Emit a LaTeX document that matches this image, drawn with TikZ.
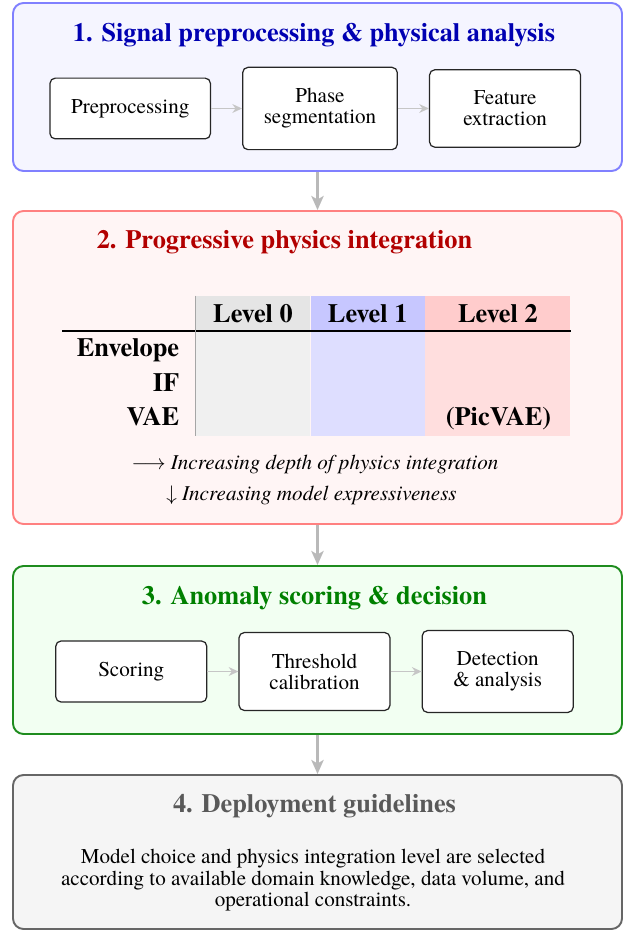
\documentclass[tikz,border=0pt]{standalone}
\usepackage{fontspec}
\setmainfont{texgyretermes}[Extension=.otf,UprightFont=*-regular,BoldFont=*-bold,
  ItalicFont=*-italic,BoldItalicFont=*-bolditalic]
\usepackage{amsmath,amssymb}
\usetikzlibrary{arrows.meta,positioning}
\definecolor{PreBlue}{HTML}{8080FF}
\definecolor{PhysRed}{HTML}{FF8080}
\definecolor{ScoreGreen}{HTML}{1E8C1E}
\definecolor{DeployGray}{HTML}{666666}

\begin{document}
\begin{tikzpicture}[
    stage/.style={rounded corners=6pt,line width=1.1pt,minimum width=12.18cm},
    title/.style={inner sep=0pt,font=\fontsize{15}{18}\selectfont\bfseries},
    block/.style={draw=black!85,fill=white,rounded corners=3pt,line width=0.7pt,
      inner sep=12pt,minimum width=3.02cm,align=center,
      font=\fontsize{12}{12}\selectfont},
    flow/.style={-{Stealth[length=5.5pt,width=5pt]},draw=gray!45,line width=1.1pt},
    link/.style={-{Stealth[length=8pt,width=7pt,inset=2pt]},draw=gray!55,line width=1.4pt},
    cell/.style={minimum width=2.28cm,minimum height=0.70cm,inner sep=0pt,
      font=\fontsize{15}{18}\selectfont\bfseries},
    col/.style={minimum width=2.28cm,minimum height=2.08cm,inner sep=0pt},
    model/.style={anchor=base east,inner sep=0pt,font=\fontsize{15}{18}\selectfont\bfseries},
    hint/.style={anchor=base,inner sep=0pt,font=\fontsize{12}{14}\selectfont\itshape}
  ]
  \useasboundingbox (0,0) rectangle (12.5,-18.6);

  % stage frames
  \node[stage,draw=PreBlue,fill=PreBlue!8,minimum height=3.36cm] (s1) at (6.35,-1.74) {};
  \node[stage,draw=PhysRed,fill=PhysRed!8,minimum height=6.26cm] (s2) at (6.35,-7.35) {};
  \node[stage,draw=ScoreGreen,fill=green!5,minimum height=3.36cm] (s3) at (6.35,-13.0) {};
  \node[stage,draw=DeployGray,fill=black!4,minimum height=3.08cm] (s4) at (6.35,-17.04) {};

  \draw[link] (s1) -- (s2);
  \draw[link] (s2) -- (s3);
  \draw[link] (s3) -- (s4);

  % 1. preprocessing
  \node[title,text=blue!70!black] (t1) at (6.28,-0.70) {1. Signal preprocessing \& physical analysis};
  \node[block] (seg) at (6.40,-2.17) {Phase\\segmentation};
  \node[block,left=0.62cm of seg] (prep) {Preprocessing};
  \node[block,right=0.62cm of seg] (feat) {Feature\\extraction};
  \draw[flow] (prep) -- (seg);
  \draw[flow] (seg) -- (feat);

  % 2. physics levels
  \node[title,text=red!70!black] (t2) at (5.69,-4.84) {2. Progressive physics integration};
  \node[cell,fill=gray!20] (h0) at (5.06,-6.27) {Level 0};
  \node[cell,fill=blue!22,right=0pt of h0] (h1) {Level 1};
  \node[cell,fill=red!20,right=0pt of h1,minimum width=2.90cm] (h2) {Level 2};
  \node[col,fill=gray!12,below=0pt of h0] (c0) {};
  \node[col,fill=blue!13,below=0pt of h1] (c1) {};
  \node[col,fill=red!13,below=0pt of h2,minimum width=2.90cm] (c2) {};
  \coordinate (ruleL) at (1.24,-6.62);
  \draw[line width=0.8pt] (ruleL) -- (ruleL -| h2.south east);
  \draw[gray!70,line width=0.5pt] (h0.north west) -- (c0.south west);
  \node[model] (env) at (3.59,-7.14) {Envelope};
  \node[model] (if) at (3.59,-7.82) {IF};
  \node[model] (vae) at (3.59,-8.50) {VAE};
  \node[model,anchor=base] (picvae) at (9.97,-8.50) {(PicVAE)};
  \node[hint] (depth) at (6.30,-9.38) {$\longrightarrow$ Increasing depth of physics integration};
  \node[hint] (expr) at (6.23,-10.00) {$\downarrow$ Increasing model expressiveness};

  % 3. scoring
  \node[title,text=green!50!black] (t3) at (6.29,-11.96) {3. Anomaly scoring \& decision};
  \node[block] (thr) at (6.29,-13.43) {Threshold\\calibration};
  \node[block,left=0.62cm of thr] (score) {Scoring};
  \node[block,right=0.62cm of thr] (det) {Detection\\\& analysis};
  \draw[flow] (score) -- (thr);
  \draw[flow] (thr) -- (det);

  % 4. deployment
  \node[title,text=black!65] (t4) at (6.29,-16.12) {4. Deployment guidelines};
  \node[align=center,inner sep=0pt,font=\fontsize{12}{12.2}\selectfont] (guide) at (6.26,-17.61)
    {Model choice and physics integration level are selected\\
     according to available domain knowledge, data volume, and\\
     operational constraints.};
\end{tikzpicture}
\end{document}
